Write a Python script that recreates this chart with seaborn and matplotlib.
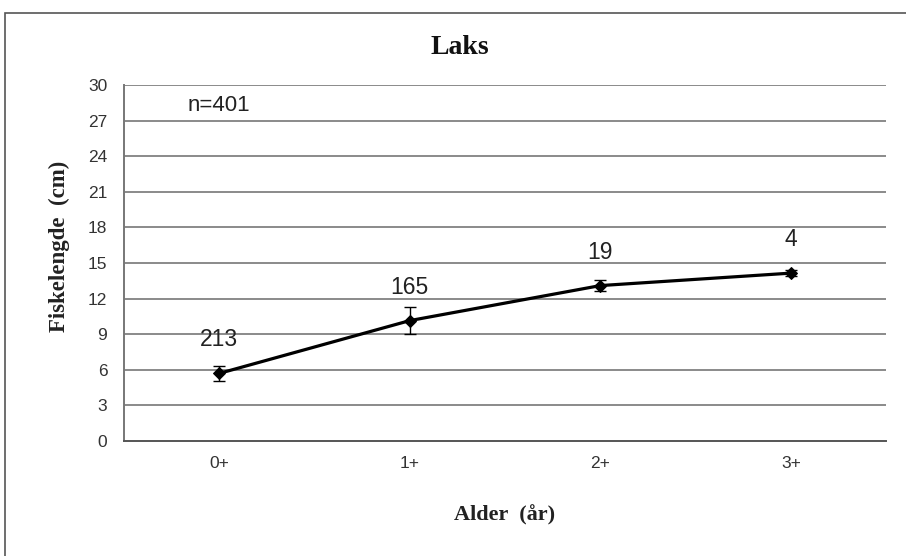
import numpy as np
import matplotlib
matplotlib.use("Agg")
import matplotlib.pyplot as plt
import seaborn as sns
from matplotlib.patches import Rectangle
from matplotlib.ticker import FixedLocator

sns.set_style("white")
plt.rcParams['font.family'] = ['Liberation Sans', 'DejaVu Sans']

ages = ['0+', '1+', '2+', '3+']
mean_length = [5.7, 10.15, 13.1, 14.15]
sd_length = [0.65, 1.15, 0.45, 0.25]
n_fish = ['213', '165', '19', '4']
y_ticks = [0, 3, 6, 9, 12, 15, 18, 21, 24, 27, 30]

fig = plt.figure(figsize=(9.06, 5.56), dpi=100)
ax = fig.add_axes([0.1369, 0.2068, 0.978 - 0.1369, 0.847 - 0.2068])

# ramme rundt hele figuren
fig.patches.append(Rectangle((5 / 906, -0.05), 1.1, 0.05 + (556 - 13) / 556,
                             transform=fig.transFigure, fill=False,
                             edgecolor='#555555', linewidth=1.2))

pos = np.arange(len(ages))
for y in y_ticks[1:]:
    ax.axhline(y, color='#8a8a8a', linewidth=1.4, zorder=0)

sns.lineplot(x=pos, y=mean_length, ax=ax, color='black', linewidth=2.3,
             marker='D', markersize=6, markeredgecolor='black')
ax.errorbar(pos, mean_length, yerr=sd_length, fmt='none', ecolor='black',
            elinewidth=1, capsize=4, capthick=1)

# antall fisk over hvert punkt
for x, y, lab in zip(pos, mean_length, n_fish):
    ax.text(x, y + 1.85, lab, ha='center', va='bottom', fontsize=16.5, color='#222222')

ax.text(0, 28.3, 'n=401', ha='center', va='center', fontsize=16, color='#222222')

ax.set_xlim(-0.5, 3.5)
ax.set_ylim(0, 30)
ax.set_yticks(y_ticks)
ax.set_xticks(pos)
ax.set_xticklabels(ages, fontsize=12.5)
ax.xaxis.set_minor_locator(FixedLocator([-0.5, 0.5, 1.5, 2.5, 3.5]))
ax.tick_params(axis='x', which='major', length=0, pad=11, colors='#333333')
ax.tick_params(axis='x', which='minor', length=6, width=1, color='#555555', direction='out')
ax.tick_params(axis='y', length=7, width=1, color='#555555', direction='out',
               labelsize=12.5, labelcolor='#333333', pad=5)

for side in ['top', 'right']:
    ax.spines[side].set_visible(False)
ax.spines['left'].set_color('#777777')
ax.spines['left'].set_linewidth(1.4)
ax.spines['bottom'].set_color('#555555')
ax.spines['bottom'].set_linewidth(1.4)

fig.text(460 / 906, 1 - 47 / 556, 'Laks', ha='center', va='center', fontsize=20,
         fontweight='bold', family='Liberation Serif', color='#111111')
ax.set_xlabel('Alder  (år)', fontsize=16, fontweight='bold', family='Liberation Serif',
              labelpad=24, color='#222222')
fig.text(59 / 906, 1 - 246 / 556, 'Fiskelengde  (cm)', rotation=90, ha='center', va='center',
         fontsize=16.5, fontweight='bold', family='Liberation Serif', color='#222222')

fig.savefig('out.png', dpi=100)
